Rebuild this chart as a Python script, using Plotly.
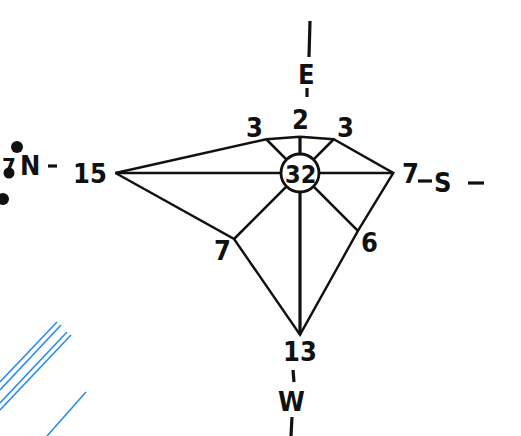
import numpy as np
import plotly.graph_objects as go

# wind rose counts, compass turned so that E points up
directions = ["E", "SE", "S", "SW", "W", "NW", "N", "NE"]
counts = [2, 3, 7, 6, 13, 7, 15, 3]
calm = 32

W, H = 521, 436
cx, cy = 300, 173          # centre of the calm circle (screen px)
scale = 11.4               # px per count
offset = 13.5              # px added to every spoke
calm_r = 19

INK = "#111111"
FONT = dict(family="DejaVu Sans Condensed, DejaVu Sans", color=INK, size=27, weight="bold")

theta = np.deg2rad(90 - 45 * np.arange(len(directions)))
ux, uy = np.cos(theta), -np.sin(theta)     # screen y grows downwards
length = offset + scale * np.array(counts)
ex = cx + length * ux
ey = cy + length * uy

fig = go.Figure()

# spokes from the calm circle out to each count
for i, d in enumerate(directions):
    fig.add_trace(go.Scatter(
        x=[cx + calm_r * ux[i], ex[i]], y=[cy + calm_r * uy[i], ey[i]],
        mode="lines", line=dict(color=INK, width=3.2 if d in ("E", "W") else 2.6),
        hoverinfo="skip"))

# outline joining the spoke ends
fig.add_trace(go.Scatter(
    x=np.append(ex, ex[0]), y=np.append(ey, ey[0]),
    mode="lines", line=dict(color=INK, width=2.4), hoverinfo="skip"))

# count labels just outside the spoke ends (wider labels pushed further sideways)
for i, c in enumerate(counts):
    gap = 17 + 9 * (len(str(c)) - 1) * abs(ux[i])
    fig.add_annotation(x=cx + (length[i] + gap) * ux[i], y=cy + (length[i] + gap) * uy[i],
                       text=str(c), showarrow=False, font=FONT)

# calm circle
fig.add_shape(type="circle", x0=cx - calm_r, x1=cx + calm_r, y0=cy - calm_r, y1=cy + calm_r,
              line=dict(color=INK, width=2.8), fillcolor="white")
fig.add_annotation(x=cx, y=cy + 1, text=str(calm), showarrow=False, font=dict(FONT, size=25))

# compass letters with the dashed axis marks
letters = {"E": (306, 74), "S": (443, 182), "W": (291, 401), "N": (30, 165)}
for k, (x, y) in letters.items():
    fig.add_annotation(x=x, y=y, text=k, showarrow=False, font=FONT)
fig.add_annotation(x=0, y=166, text="7", showarrow=False, xanchor="left",
                   font=dict(FONT, size=22))

dashes = [((310, 21), (309, 57)), ((307, 88), (307, 97)),
          ((418, 181), (432, 181)), ((468, 183), (484, 183)),
          ((293, 370), (294, 382)), ((292, 417), (291, 436)),
          ((48, 166), (57, 166))]
for (x0, y0), (x1, y1) in dashes:
    fig.add_shape(type="line", x0=x0, y0=y0, x1=x1, y1=y1, line=dict(color=INK, width=3.2))

# blobs and blue pen strokes on the scanned page
for x, y, r in [(17, 147, 6), (9, 173, 5.5), (3, 199, 6)]:
    fig.add_shape(type="circle", x0=x - r, x1=x + r, y0=y - r, y1=y + r,
                  line=dict(width=0), fillcolor=INK)
blue = [((57, 322), (0, 382)), ((61, 325), (0, 390)), ((67, 332), (0, 403)),
        ((71, 335), (0, 410)), ((86, 392), (47, 436))]
for (x0, y0), (x1, y1) in blue:
    fig.add_shape(type="line", x0=x0, y0=y0, x1=x1, y1=y1, line=dict(color="#2a8cf0", width=1.6))

fig.update_xaxes(range=[0, W], visible=False, fixedrange=True)
fig.update_yaxes(range=[H, 0], visible=False, fixedrange=True)
fig.update_layout(width=W, height=H, margin=dict(l=0, r=0, t=0, b=0),
                  plot_bgcolor="white", paper_bgcolor="white", showlegend=False)

fig.write_html("out.html", config={"displayModeBar": False},
               post_script="document.body.style.margin='0';document.body.style.overflow='hidden';")
